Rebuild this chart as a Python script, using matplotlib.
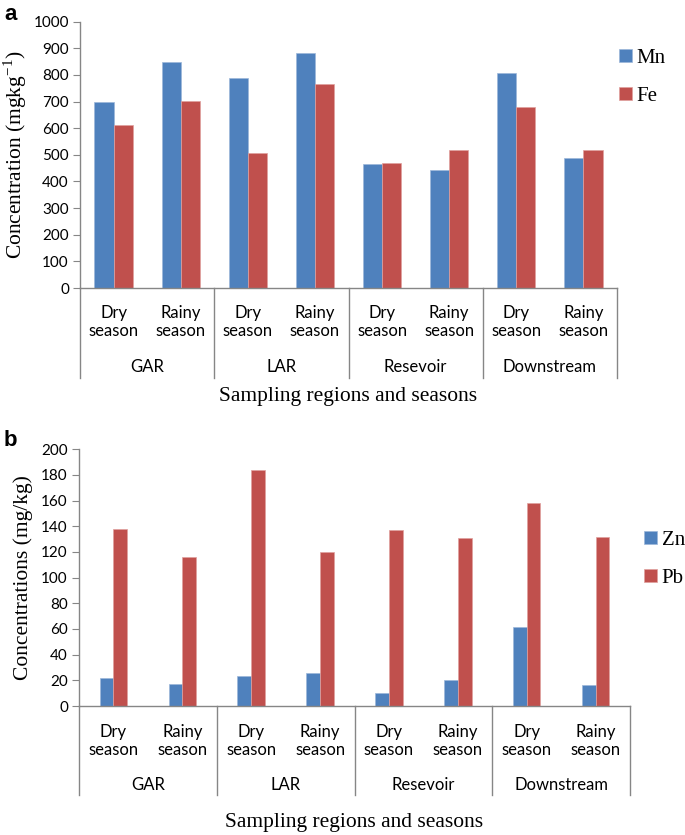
import matplotlib
matplotlib.use("Agg")
import matplotlib.pyplot as plt
import matplotlib.transforms as mtransforms
import numpy as np

seasons = ["Dry\nseason", "Rainy\nseason"] * 4
regions = ["GAR", "LAR", "Resevoir", "Downstream"]

mn = [700, 850, 787, 881, 464, 442, 807, 489]
fe = [612, 702, 507, 766, 469, 517, 679, 519]

zn = [21.8, 17.1, 23.6, 25.5, 9.9, 20.0, 61.3, 16.1]
pb = [137.7, 116.1, 183.6, 120.0, 136.9, 130.9, 158.2, 131.7]

BLUE = "#4F81BD"
RED = "#C0504D"
GREY = "#868686"
W, H = 685, 835

tick_font = "Lato"
serif = "Liberation Serif"

fig = plt.figure(figsize=(W / 100, H / 100), dpi=100)


def make_panel(rect_px, s1, s2, names, ymax, ystep, barw, ylabel, lab_off, leg_px, letter, letter_y, lpad):
    left, top, right, bottom = rect_px
    ax = fig.add_axes([left / W, 1 - bottom / H, (right - left) / W, (bottom - top) / H])
    ah = bottom - top
    x = np.arange(len(s1))
    b1 = ax.bar(x - barw / 2, s1, barw, color=BLUE, edgecolor="#9DB7D9", linewidth=0.5, label=names[0])
    b2 = ax.bar(x + barw / 2, s2, barw, color=RED, edgecolor="#E0A09E", linewidth=0.5, label=names[1])
    ax.set_xlim(-0.5, len(s1) - 0.5)
    ax.set_ylim(0, ymax)
    ax.set_yticks(np.arange(0, ymax + 1, ystep))
    ax.tick_params(axis="y", direction="out", length=5, color=GREY, labelsize=11, pad=3)
    for t in ax.get_yticklabels():
        t.set_fontfamily(tick_font)
    ax.set_xticks([])
    for s in ["top", "right"]:
        ax.spines[s].set_visible(False)
    for s in ["left", "bottom"]:
        ax.spines[s].set_color(GREY)
        ax.spines[s].set_linewidth(1.0)
    tr = mtransforms.blended_transform_factory(ax.transData, ax.transAxes)
    d_season, d_region, d_line, d_xlabel = lab_off
    for i, s in enumerate(seasons):
        ax.text(i, -d_season / ah, s, transform=tr, ha="center", va="center",
                fontsize=12, fontfamily=tick_font, linespacing=1.15)
    for g, r in enumerate(regions):
        ax.text(2 * g + 0.5, -d_region / ah, r, transform=tr, ha="center", va="center",
                fontsize=12, fontfamily=tick_font)
    for xb in np.arange(-0.5, len(s1), 2):
        ax.plot([xb, xb], [0, -d_line / ah], transform=tr, color=GREY, lw=1.0, clip_on=False)
    ax.text(0.5, -d_xlabel / ah, "Sampling regions and seasons", transform=ax.transAxes,
            ha="center", va="center", fontsize=15.5, fontfamily=serif)
    ax.set_ylabel(ylabel, fontsize=15.5, fontfamily=serif, labelpad=lpad)
    fig.legend(handles=[b1, b2], labels=names, loc="upper left",
               bbox_to_anchor=(leg_px[0] / W, 1 - leg_px[1] / H), frameon=False,
               prop={"family": serif, "size": 15}, handlelength=0.6, handleheight=0.6,
               handletextpad=0.25, labelspacing=0.9, borderpad=0, borderaxespad=0)
    fig.text(4 / W, 1 - letter_y / H, letter, fontsize=16, fontweight="bold",
             fontfamily="Liberation Sans", ha="left", va="center")
    return ax


make_panel((80, 21.7, 617, 288), mn, fe, ["Mn", "Fe"], 1000, 100, 0.2857,
           r"Concentration (mgkg$^{\mathregular{-1}}$)", (34, 79, 90, 109), (619, 49), "a", 15, 3)
make_panel((79, 449.3, 630, 706), zn, pb, ["Zn", "Pb"], 200, 20, 0.2,
           "Concentrations (mg/kg)", (35, 79, 89, 116), (644, 531), "b", 441, 6)

fig.savefig("out.png", dpi=100)
